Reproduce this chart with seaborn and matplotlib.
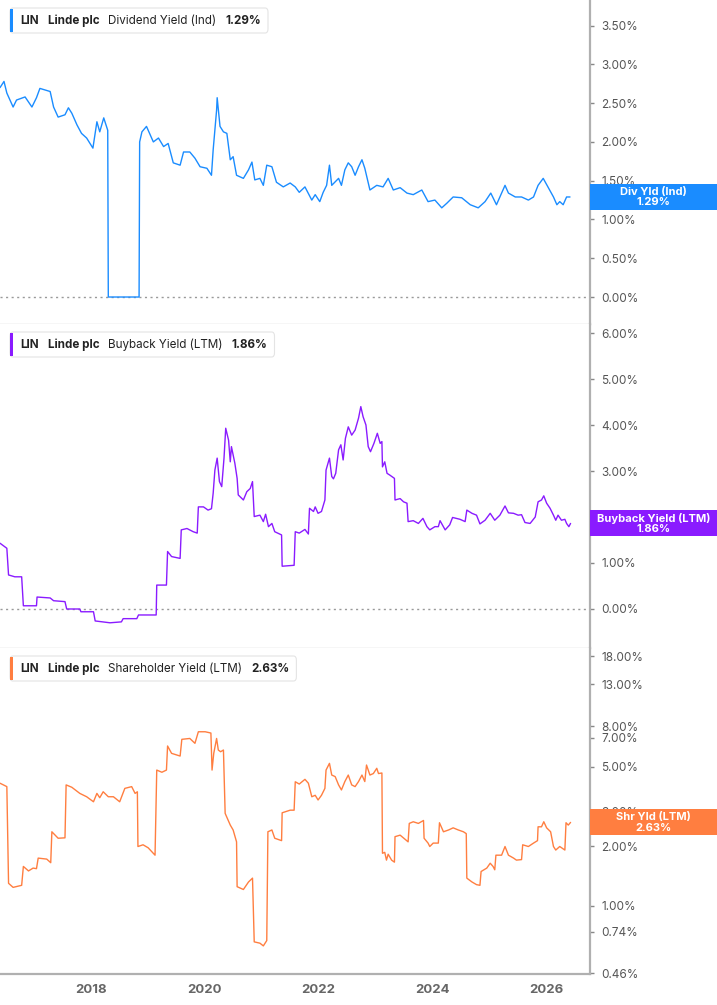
import matplotlib.pyplot as plt
import matplotlib.patches as patches
import matplotlib.ticker as ticker
import seaborn as sns
import numpy as np
import pandas as pd

# ---- data (decimal years, yield in %) ----
div_dates = [2016.41, 2016.48, 2016.53, 2016.64, 2016.70, 2016.85, 2016.97, 2017.05, 2017.11, 2017.29,
             2017.35, 2017.43, 2017.55, 2017.61, 2017.67, 2017.76, 2017.84, 2017.93, 2018.04, 2018.11,
             2018.16, 2018.23, 2018.30, 2018.31, 2018.85, 2018.86, 2018.90, 2018.98, 2019.10, 2019.19,
             2019.28, 2019.36, 2019.45, 2019.57, 2019.63, 2019.74, 2019.83, 2019.92, 2020.04, 2020.12,
             2020.15, 2020.21, 2020.22, 2020.27, 2020.33, 2020.39, 2020.45, 2020.50, 2020.56, 2020.68,
             2020.77, 2020.83, 2020.88, 2020.97, 2021.03, 2021.09, 2021.18, 2021.26, 2021.38, 2021.50,
             2021.59, 2021.66, 2021.76, 2021.88, 2021.94, 2022.02, 2022.08, 2022.14, 2022.19, 2022.23,
             2022.35, 2022.40, 2022.46, 2022.52, 2022.58, 2022.64, 2022.70, 2022.76, 2022.81, 2022.90,
             2023.02, 2023.13, 2023.22, 2023.31, 2023.43, 2023.55, 2023.66, 2023.81, 2023.92, 2024.04,
             2024.16, 2024.25, 2024.36, 2024.51, 2024.66, 2024.80, 2024.92, 2025.02, 2025.12, 2025.18,
             2025.27, 2025.33, 2025.45, 2025.56, 2025.68, 2025.77, 2025.85, 2025.94, 2026.03, 2026.12,
             2026.18, 2026.23, 2026.29, 2026.35, 2026.41]
div_yield = [2.70, 2.78, 2.63, 2.45, 2.54, 2.58, 2.45, 2.57, 2.69, 2.65,
             2.45, 2.32, 2.35, 2.44, 2.37, 2.22, 2.11, 2.05, 1.92, 2.26,
             2.13, 2.31, 2.15, 0.00, 0.00, 2.00, 2.13, 2.20, 2.00, 2.05,
             1.94, 1.98, 1.73, 1.70, 1.87, 1.87, 1.79, 1.68, 1.66, 1.57,
             1.90, 2.41, 2.57, 2.20, 2.13, 2.11, 1.77, 1.81, 1.57, 1.53,
             1.64, 1.74, 1.51, 1.53, 1.44, 1.70, 1.68, 1.48, 1.42, 1.47,
             1.42, 1.35, 1.42, 1.25, 1.32, 1.23, 1.35, 1.44, 1.70, 1.44,
             1.53, 1.44, 1.64, 1.73, 1.68, 1.57, 1.68, 1.77, 1.66, 1.38,
             1.44, 1.42, 1.53, 1.38, 1.41, 1.34, 1.32, 1.38, 1.23, 1.25,
             1.15, 1.21, 1.29, 1.28, 1.19, 1.15, 1.23, 1.34, 1.19, 1.29,
             1.44, 1.34, 1.29, 1.29, 1.25, 1.29, 1.44, 1.53, 1.41, 1.29,
             1.19, 1.23, 1.19, 1.29, 1.29]

bb_dates = [2016.41, 2016.53, 2016.56, 2016.67, 2016.79, 2016.82, 2017.05, 2017.06, 2017.29, 2017.35,
            2017.55, 2017.58, 2017.81, 2017.83, 2018.05, 2018.08, 2018.34, 2018.54, 2018.57, 2018.81,
            2018.84, 2019.15, 2019.16, 2019.33, 2019.35, 2019.42, 2019.57, 2019.59, 2019.69, 2019.80,
            2019.87, 2019.89, 2019.98, 2020.06, 2020.12, 2020.15, 2020.18, 2020.22, 2020.26, 2020.30,
            2020.34, 2020.37, 2020.42, 2020.45, 2020.47, 2020.53, 2020.57, 2020.59, 2020.68, 2020.74,
            2020.80, 2020.84, 2020.87, 2020.97, 2021.03, 2021.07, 2021.12, 2021.18, 2021.23, 2021.35,
            2021.36, 2021.57, 2021.59, 2021.66, 2021.76, 2021.82, 2021.84, 2021.91, 2021.94, 2021.99,
            2022.05, 2022.11, 2022.13, 2022.19, 2022.23, 2022.26, 2022.30, 2022.35, 2022.39, 2022.43,
            2022.47, 2022.52, 2022.58, 2022.64, 2022.70, 2022.74, 2022.78, 2022.83, 2022.87, 2022.91,
            2022.97, 2023.03, 2023.08, 2023.11, 2023.12, 2023.16, 2023.20, 2023.25, 2023.33, 2023.34,
            2023.43, 2023.49, 2023.55, 2023.57, 2023.66, 2023.75, 2023.83, 2023.90, 2023.95, 2024.04,
            2024.10, 2024.13, 2024.22, 2024.30, 2024.35, 2024.48, 2024.57, 2024.60, 2024.69, 2024.77,
            2024.83, 2024.92, 2025.01, 2025.09, 2025.18, 2025.27, 2025.33, 2025.42, 2025.50, 2025.56,
            2025.62, 2025.71, 2025.80, 2025.85, 2025.91, 2025.95, 2026.00, 2026.06, 2026.12, 2026.16,
            2026.20, 2026.26, 2026.32, 2026.35, 2026.39, 2026.42]
bb_yield = [1.43, 1.32, 0.74, 0.70, 0.70, 0.07, 0.07, 0.26, 0.24, 0.18,
            0.16, 0.00, 0.00, -0.06, -0.06, -0.26, -0.30, -0.28, -0.21, -0.21,
            -0.13, -0.13, 0.52, 0.52, 1.25, 1.14, 1.10, 1.72, 1.75, 1.68,
            1.65, 2.22, 2.22, 2.15, 2.18, 2.52, 3.02, 3.28, 2.77, 2.66,
            3.28, 3.93, 3.67, 3.20, 3.53, 3.17, 2.84, 2.48, 2.37, 2.55,
            2.62, 2.77, 2.01, 2.04, 1.90, 2.06, 1.79, 1.86, 1.68, 1.61,
            0.93, 0.95, 1.68, 1.65, 1.73, 1.63, 2.19, 2.12, 2.22, 2.08,
            2.12, 2.37, 3.02, 3.28, 2.88, 2.83, 2.95, 3.46, 3.57, 3.24,
            3.71, 3.96, 3.78, 3.89, 4.15, 4.40, 4.18, 4.00, 3.53, 3.42,
            3.60, 3.82, 3.60, 3.64, 3.09, 3.20, 2.95, 2.91, 2.84, 2.37,
            2.40, 2.33, 2.30, 1.90, 1.92, 1.86, 1.97, 1.79, 1.72, 1.79,
            1.79, 1.92, 1.72, 1.83, 1.99, 1.95, 1.90, 2.15, 2.08, 2.04,
            1.85, 1.93, 2.08, 1.93, 2.04, 2.24, 2.09, 2.08, 2.04, 2.05,
            1.88, 1.86, 2.00, 2.33, 2.37, 2.46, 2.30, 2.19, 2.04, 1.93,
            2.04, 1.93, 1.95, 1.86, 1.79, 1.86]

shr_dates = [2016.41, 2016.53, 2016.56, 2016.64, 2016.79, 2016.82, 2016.91, 2016.99, 2017.05, 2017.08,
             2017.23, 2017.30, 2017.32, 2017.43, 2017.55, 2017.57, 2017.67, 2017.81, 2017.93, 2018.05,
             2018.11, 2018.16, 2018.22, 2018.31, 2018.40, 2018.51, 2018.60, 2018.72, 2018.78, 2018.82,
             2018.83, 2018.92, 2019.01, 2019.13, 2019.16, 2019.25, 2019.33, 2019.35, 2019.42, 2019.57,
             2019.60, 2019.74, 2019.83, 2019.89, 2020.01, 2020.11, 2020.13, 2020.16, 2020.21, 2020.24,
             2020.28, 2020.33, 2020.36, 2020.45, 2020.50, 2020.56, 2020.57, 2020.68, 2020.77, 2020.84,
             2020.87, 2020.97, 2021.03, 2021.09, 2021.11, 2021.18, 2021.23, 2021.35, 2021.36, 2021.50,
             2021.57, 2021.59, 2021.66, 2021.76, 2021.82, 2021.88, 2021.94, 2021.99, 2022.05, 2022.11,
             2022.13, 2022.19, 2022.23, 2022.29, 2022.35, 2022.40, 2022.46, 2022.52, 2022.58, 2022.64,
             2022.70, 2022.76, 2022.81, 2022.84, 2022.90, 2022.96, 2023.02, 2023.05, 2023.11, 2023.12,
             2023.16, 2023.19, 2023.22, 2023.28, 2023.33, 2023.34, 2023.43, 2023.52, 2023.57, 2023.59,
             2023.66, 2023.75, 2023.84, 2023.85, 2023.92, 2023.95, 2024.01, 2024.10, 2024.12, 2024.19,
             2024.28, 2024.36, 2024.45, 2024.54, 2024.59, 2024.60, 2024.69, 2024.77, 2024.83, 2024.85,
             2024.95, 2025.01, 2025.06, 2025.09, 2025.11, 2025.21, 2025.27, 2025.33, 2025.42, 2025.47,
             2025.56, 2025.58, 2025.68, 2025.77, 2025.84, 2025.85, 2025.91, 2025.95, 2026.00, 2026.07,
             2026.12, 2026.16, 2026.23, 2026.32, 2026.34, 2026.38, 2026.42]
shr_yield = [4.14, 3.98, 1.30, 1.24, 1.27, 1.58, 1.50, 1.55, 1.54, 1.74,
             1.72, 1.65, 2.36, 2.19, 2.20, 4.06, 3.95, 3.68, 3.54, 3.34,
             3.68, 3.50, 3.75, 3.54, 3.54, 3.34, 3.90, 3.98, 3.68, 3.75,
             1.99, 2.03, 1.96, 1.80, 4.82, 4.70, 4.82, 6.37, 5.85, 5.67,
             6.88, 6.95, 6.57, 7.51, 7.51, 7.40, 4.82, 5.85, 6.95, 6.08,
             5.96, 6.08, 2.92, 2.55, 2.41, 2.10, 1.25, 1.21, 1.32, 1.38,
             0.66, 0.65, 0.63, 0.67, 2.36, 2.41, 2.19, 2.13, 2.94, 3.03,
             3.03, 4.21, 4.10, 4.33, 4.14, 3.54, 3.60, 3.41, 3.60, 3.90,
             4.82, 5.21, 4.55, 4.47, 4.06, 3.83, 4.22, 4.55, 4.06, 3.98,
             4.22, 4.55, 4.22, 5.11, 4.55, 4.63, 4.92, 4.63, 4.66, 1.84,
             1.86, 1.70, 1.82, 1.70, 1.66, 2.23, 2.27, 2.16, 2.10, 2.60,
             2.65, 2.60, 2.69, 2.19, 2.07, 1.99, 2.07, 2.07, 2.62, 2.36,
             2.41, 2.47, 2.41, 2.36, 2.31, 1.38, 1.32, 1.28, 1.27, 1.49,
             1.55, 1.64, 1.58, 1.52, 1.80, 1.80, 1.99, 1.80, 1.74, 1.70,
             1.71, 2.03, 1.99, 2.07, 2.13, 2.50, 2.50, 2.65, 2.47, 2.36,
             1.99, 1.91, 1.99, 1.91, 2.62, 2.55, 2.63]

year_ticks = [2018, 2020, 2022, 2024, 2026]
div_ticks = [0.0, 0.5, 1.0, 1.5, 2.0, 2.5, 3.0, 3.5]
bb_ticks = [0.0, 1.0, 2.0, 3.0, 4.0, 5.0, 6.0]
shr_ticks = [0.46, 0.74, 1.0, 2.0, 3.0, 5.0, 7.0, 8.0, 13.0, 18.0]

panels = [
    dict(dates=div_dates, vals=div_yield, color='#1a8cff', metric='Dividend Yield (Ind)',
         tag='Div Yld (Ind)', last='1.29%', ylim=(-0.348, 3.83), ticks=div_ticks, log=False,
         top=0, bottom=324),
    dict(dates=bb_dates, vals=bb_yield, color='#8a1bff', metric='Buyback Yield (LTM)',
         tag='Buyback Yield (LTM)', last='1.86%', ylim=(-0.848, 6.196), ticks=bb_ticks, log=False,
         top=324, bottom=648),
    dict(dates=shr_dates, vals=shr_yield, color='#ff7e40', metric='Shareholder Yield (LTM)',
         tag='Shr Yld (LTM)', last='2.63%', ylim=(0.455, 19.8), ticks=shr_ticks, log=True,
         top=648, bottom=974),
]

W, H = 717, 1005
sns.set_style('white')
plt.rcParams['font.family'] = ['Inter', 'DejaVu Sans']
fig = plt.figure(figsize=(W / 100, H / 100), dpi=100)

AX_R = 590
LFS = 8.4
for i, p in enumerate(panels):
    ax = fig.add_axes([0, 1 - p['bottom'] / H, AX_R / W, (p['bottom'] - p['top']) / H])
    df = pd.DataFrame({'date': p['dates'], 'value': p['vals']})
    sns.lineplot(data=df, x='date', y='value', ax=ax, color=p['color'], linewidth=1.0)
    ax.set_xlim(2016.41, 2016.41 + AX_R / 57)
    if p['log']:
        ax.set_yscale('log')
    ax.set_ylim(*p['ylim'])
    ax.set_yticks(p['ticks'])
    ax.yaxis.set_minor_locator(ticker.NullLocator())
    ax.yaxis.set_major_formatter(ticker.FuncFormatter(lambda v, pos: '%.2f%%' % v))
    ax.yaxis.tick_right()
    ax.tick_params(axis='y', direction='out', length=3, width=1, color='#888888',
                   labelsize=8.5, labelcolor='#555555', pad=5)
    ax.set_xlabel('')
    ax.set_ylabel('')
    for s in ['top', 'left']:
        ax.spines[s].set_visible(False)
    ax.spines['right'].set_color('#b0b0b0')
    ax.spines['right'].set_linewidth(1.6)
    if not p['log']:
        ax.axhline(0, color='#999999', linestyle=(0, (1.5, 2.5)), linewidth=1.0, zorder=1)
    if i < 2:
        ax.spines['bottom'].set_color('#d6d6d6')
        ax.spines['bottom'].set_linewidth(1.0)
        ax.set_xticks([])
    else:
        ax.spines['bottom'].set_color('#b0b0b0')
        ax.spines['bottom'].set_linewidth(1.6)
        ax.set_xticks(year_ticks)
        ax.set_xticklabels([str(y) for y in year_ticks])
        ax.tick_params(axis='x', direction='out', length=4, width=1, color='#999999',
                       labelsize=9.5, labelcolor='#666666', pad=3)
        for lbl in ax.get_xticklabels():
            lbl.set_fontweight('bold')

    # legend box top-left: texts chained by measured width
    lx0, ly0 = 10, p['top'] + 8
    lh = 25
    ty = 1 - (ly0 + lh / 2) / H
    fig.canvas.draw()
    x = 20
    pieces = [('LIN', 'bold', 9), ('Linde plc', 'bold', 9), (p['metric'], 'normal', 9),
              (p['last'], 'bold', 0)]
    for txt, wt, gap in pieces:
        t = fig.text(x / W, ty, txt, fontsize=LFS, fontweight=wt, color='#222222',
                     va='center', zorder=7)
        bb = t.get_window_extent(renderer=fig.canvas.get_renderer())
        x = bb.x1 + gap
    box_w = x + 7 - lx0
    fig.patches.append(patches.FancyBboxPatch(
        (lx0 / W, 1 - (ly0 + lh) / H), box_w / W, lh / H,
        boxstyle='round,pad=0,rounding_size=0.004', transform=fig.transFigure,
        facecolor='white', edgecolor='#e4e4e4', linewidth=0.8, zorder=5))
    fig.patches.append(patches.Rectangle(
        (lx0 / W, 1 - (ly0 + lh - 1) / H), 3 / W, (lh - 2) / H,
        transform=fig.transFigure, facecolor=p['color'], edgecolor='none', zorder=6))

    # value tag on the right axis
    last_val = p['vals'][-1]
    ypix = ax.transData.transform((p['dates'][-1], last_val))[1]
    th = 26
    fig.patches.append(patches.Rectangle(
        (AX_R / W, (ypix - th / 2) / H), (W - AX_R) / W, th / H,
        transform=fig.transFigure, facecolor=p['color'], edgecolor='none', zorder=8))
    fig.text((AX_R + W) / 2 / W, ypix / H, p['tag'] + '\n' + p['last'], fontsize=8,
             fontweight='bold', color='white', ha='center', va='center',
             linespacing=1.1, zorder=9)

fig.savefig('out.png', dpi=100)
